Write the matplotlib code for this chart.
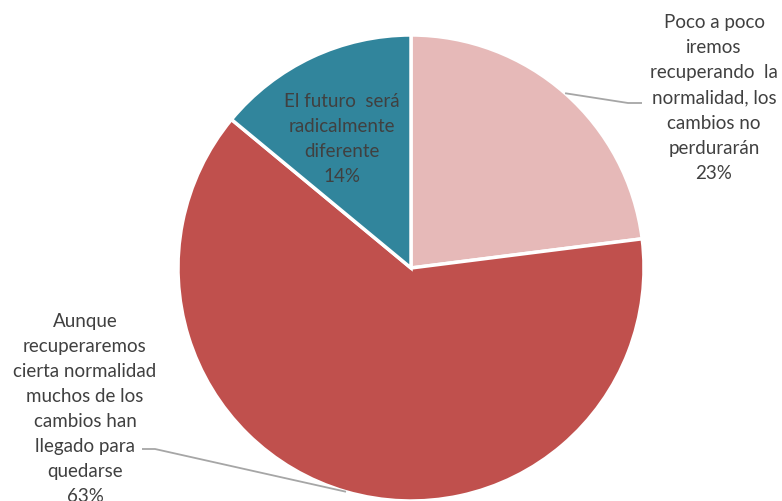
import numpy as np
import matplotlib.pyplot as plt

labels = [
    "Poco a poco\niremos\nrecuperando  la\nnormalidad, los\ncambios no\nperdurarán",
    "Aunque\nrecuperaremos\ncierta normalidad\nmuchos de los\ncambios han\nllegado para\nquedarse",
    "El futuro  será\nradicalmente\ndiferente",
]
values = [23, 63, 14]
colors = ["#E6B9B8", "#C0504D", "#31859C"]

W, H = 782, 501
fig = plt.figure(figsize=(W / 100, H / 100), dpi=100)
ax = fig.add_axes([0, 0, 1, 1])

cx, cy, r = 411, H - 268, 233
wedges, _ = ax.pie(values, colors=colors, startangle=90, counterclock=False,
                   center=(cx, cy), radius=r, frame=True,
                   wedgeprops=dict(edgecolor="white", linewidth=2.5))
ax.set_xlim(0, W)
ax.set_ylim(0, H)
ax.set_aspect("equal")
ax.axis("off")

txt = dict(family="Lato", fontsize=13.5, color="#404040", ha="center",
           va="center", linespacing=1.58)

# label text positions and leader elbows (pixel coords, y from top)
label_pos = [(714, 98), (85, 409), (342, 139)]
elbows = [[(628, 103), (642, 103)], [(155, 449), (142, 449)], None]

for w, lab, v, pos, elb in zip(wedges, labels, values, label_pos, elbows):
    ax.text(pos[0], H - pos[1], f"{lab}\n{v}%", **txt)
    if elb is None:
        continue
    mid = np.deg2rad((w.theta1 + w.theta2) / 2)
    xs = [cx + r * np.cos(mid)] + [p[0] for p in elb]
    ys = [cy + r * np.sin(mid)] + [H - p[1] for p in elb]
    ax.plot(xs, ys, color="#A6A6A6", lw=1.3, solid_capstyle="butt")

fig.savefig("out.png", dpi=100)
